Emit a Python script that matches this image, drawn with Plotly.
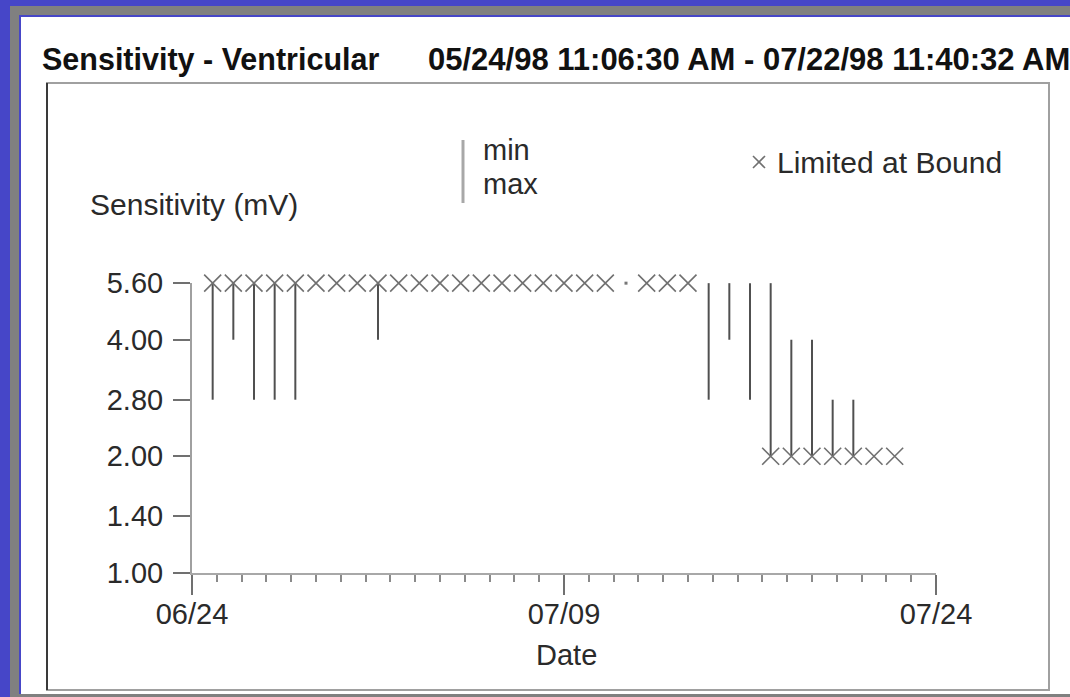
import plotly.graph_objects as go

# ---------------- data ----------------
times = [
    "1998-06-24 20:00", "1998-06-25 16:00", "1998-06-26 12:00", "1998-06-27 08:00",
    "1998-06-28 04:00", "1998-06-29 00:00", "1998-06-29 20:00", "1998-06-30 16:00",
    "1998-07-01 12:00", "1998-07-02 08:00", "1998-07-03 04:00", "1998-07-04 00:00",
    "1998-07-04 20:00", "1998-07-05 16:00", "1998-07-06 12:00", "1998-07-07 08:00",
    "1998-07-08 04:00", "1998-07-09 00:00", "1998-07-09 20:00", "1998-07-10 16:00",
    "1998-07-11 12:00", "1998-07-12 08:00", "1998-07-13 04:00", "1998-07-14 00:00",
    "1998-07-14 20:00", "1998-07-15 16:00", "1998-07-16 12:00", "1998-07-17 08:00",
    "1998-07-18 04:00", "1998-07-19 00:00", "1998-07-19 20:00", "1998-07-20 16:00",
    "1998-07-21 12:00", "1998-07-22 08:00",
]
min_mv = [2.8, 4.0, 2.8, 2.8, 2.8, 5.6, 5.6, 5.6, 4.0, 5.6, 5.6, 5.6, 5.6, 5.6, 5.6, 5.6,
          5.6, 5.6, 5.6, 5.6, 5.6, 5.6, 5.6, 5.6, 2.8, 4.0, 2.8, 2.0, 2.0, 2.0, 2.0, 2.0,
          2.0, 2.0]
max_mv = [5.6, 5.6, 5.6, 5.6, 5.6, 5.6, 5.6, 5.6, 5.6, 5.6, 5.6, 5.6, 5.6, 5.6, 5.6, 5.6,
          5.6, 5.6, 5.6, 5.6, 5.6, 5.6, 5.6, 5.6, 5.6, 5.6, 5.6, 5.6, 4.0, 4.0, 2.8, 2.8,
          2.0, 2.0]
# value at which the reading was limited at a bound (None = not limited)
bound_mv = [5.6] * 20 + [None] + [5.6] * 3 + [None] * 3 + [2.0] * 7

y_ticks = [1.0, 1.4, 2.0, 2.8, 4.0, 5.6]
y_tick_labels = ["1.00", "1.40", "2.00", "2.80", "4.00", "5.60"]
x_range = ["1998-06-24", "1998-07-24"]

title_left = "Sensitivity - Ventricular"
title_right = "05/24/98 11:06:30 AM - 07/22/98 11:40:32 AM"

# ---------------- geometry ----------------
W, H = 1070, 697
ML, MR, MT, MB = 192, 134, 283, 124
PW, PH = W - ML - MR, H - MT - MB


def px(x):
    return (x - ML) / PW


def py(y):
    return (H - MB - y) / PH


FONT = "Liberation Sans, Arial, Helvetica, sans-serif"
TXT = "#2a2a2a"
MARK = "#707070"

# ---------------- traces ----------------
lx, ly = [], []
ex, ey = [], []
for t, lo, hi, b in zip(times, min_mv, max_mv, bound_mv):
    if lo == hi:
        if b is None:
            ex.append(t)
            ey.append(hi)
    else:
        lx += [t, t, None]
        ly += [lo, hi, None]

bx = [t for t, b in zip(times, bound_mv) if b is not None]
by = [b for b in bound_mv if b is not None]

fig = go.Figure()
fig.add_trace(go.Scatter(x=lx, y=ly, mode="lines", line=dict(color="#505050", width=2),
                         cliponaxis=False, showlegend=False, hoverinfo="skip"))
fig.add_trace(go.Scatter(x=bx, y=by, mode="markers",
                         marker=dict(symbol="x-thin-open", size=17, color=MARK,
                                     line=dict(color=MARK, width=1.6)),
                         cliponaxis=False, showlegend=False, hoverinfo="skip"))
fig.add_trace(go.Scatter(x=ex, y=ey, mode="markers",
                         marker=dict(symbol="square", size=3, color="#777",
                                     line=dict(width=0)),
                         cliponaxis=False, showlegend=False, hoverinfo="skip"))

# ---------------- decoration ----------------
shapes = []
def rect(x0, y0, x1, y1, fill=None, line=None, lw=0):
    shapes.append(dict(type="rect", xref="paper", yref="paper", layer="below",
                       x0=px(x0), x1=px(x1), y0=py(y1), y1=py(y0),
                       fillcolor=fill if fill else "rgba(0,0,0,0)",
                       line=dict(color=line if line else "rgba(0,0,0,0)", width=lw)))

def seg(x0, y0, x1, y1, color, lw, layer="below"):
    shapes.append(dict(type="line", xref="paper", yref="paper", layer=layer,
                       x0=px(x0), x1=px(x1), y0=py(y0), y1=py(y1),
                       line=dict(color=color, width=lw)))

rect(10, 6, W + 5, H + 5, fill="#808080")          # gray bevel
rect(19, 15, W + 5, 694, fill="#4646c8")            # thin blue line
rect(21, 17, W + 5, 694, fill="#ffffff")            # white panel
rect(47, 83, 1049, 690, line="#a0a0a0", lw=2)       # chart frame
seg(47, 83, 47, 690, "#3a3a3a", 2)                  # darker left edge of frame

# legend: min/max bar
seg(463, 140, 463, 203, "#a8a8a8", 3, layer="above")
# legend: limited-at-bound cross
seg(753, 156, 765, 168, MARK, 1.6, layer="above")
seg(753, 168, 765, 156, MARK, 1.6, layer="above")

annotations = []
def text(s, x, y, size=29, xanchor="left", color=TXT, family=FONT):
    annotations.append(dict(text=s, xref="paper", yref="paper", x=px(x), y=py(y),
                            xanchor=xanchor, yanchor="middle", showarrow=False,
                            font=dict(family=family, size=size, color=color)))

text("<b>%s</b>" % title_left, 40, 60, size=30.5, color="#111")
text("<b>%s</b>" % title_right, 426, 60, size=31, color="#111")
text("Sensitivity (mV)", 88, 205, size=30)
text("min", 481, 150)
text("max", 481, 184)
text("Limited at Bound", 775, 162, size=30)
text("Date", 566, 655, xanchor="center")

fig.update_layout(
    width=W, height=H,
    margin=dict(l=ML, r=MR, t=MT, b=MB, pad=0),
    paper_bgcolor="#4646c8",
    plot_bgcolor="#ffffff",
    shapes=shapes,
    annotations=annotations,
    showlegend=False,
    xaxis=dict(
        type="date", range=x_range, tickmode="linear", tick0=x_range[0],
        dtick=15 * 86400000, tickformat="%m/%d",
        ticks="outside", ticklen=20, tickwidth=2, tickcolor="#707070",
        ticklabelstandoff=-6,
        showline=True, linecolor="#a8a8a8", linewidth=2,
        showgrid=False, zeroline=False,
        tickfont=dict(family=FONT, size=29, color=TXT),
        minor=dict(dtick=86400000, ticks="outside", ticklen=7, tickwidth=2,
                   tickcolor="#8a8a8a", showgrid=False),
    ),
    yaxis=dict(
        type="log", range=[-0.0004, 0.7486], tickmode="array",
        tickvals=y_ticks, ticktext=y_tick_labels,
        ticks="outside", ticklen=17, tickwidth=2, tickcolor="#707070",
        ticklabelstandoff=4,
        showline=True, linecolor="#a0a0a0", linewidth=2,
        showgrid=False, zeroline=False,
        tickfont=dict(family=FONT, size=29, color=TXT),
    ),
)

fig.write_html("out.html")
